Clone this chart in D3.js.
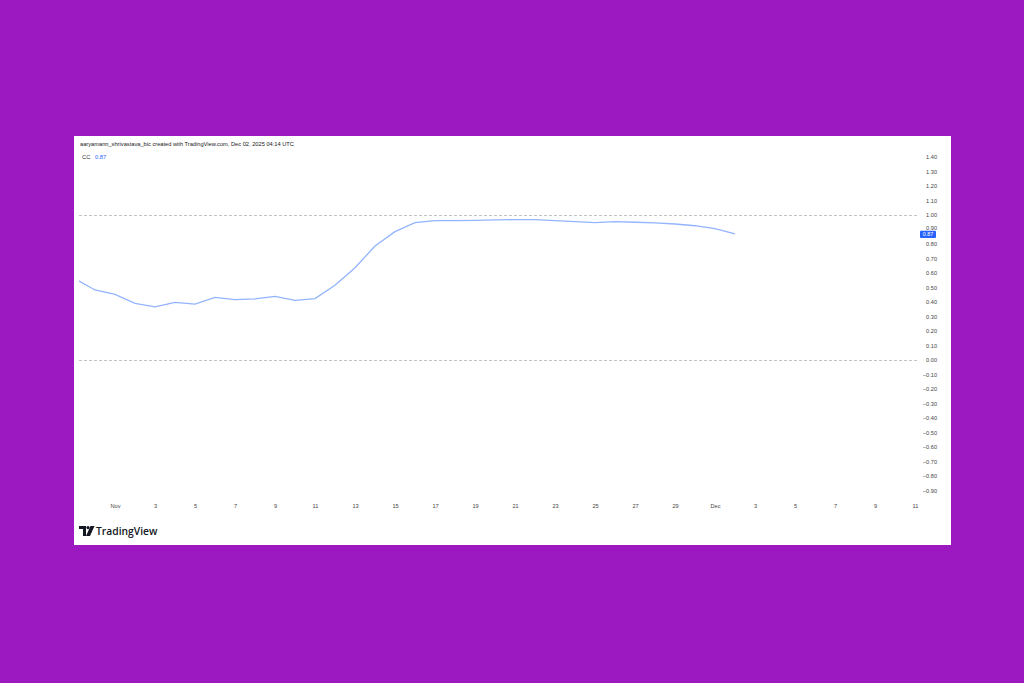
<!DOCTYPE html>
<html><head><meta charset="utf-8">
<script src="https://cdn.jsdelivr.net/npm/d3@7"></script>
<style>html,body{margin:0;padding:0;background:#9c18c0;}svg{display:block;}</style>
</head><body>
<svg id="c" width="1024" height="683"></svg>
<script>
const dates = ["2025-10-30","2025-10-31","2025-11-01","2025-11-02","2025-11-03","2025-11-04","2025-11-05","2025-11-06","2025-11-07","2025-11-08","2025-11-09","2025-11-10","2025-11-11","2025-11-12","2025-11-13","2025-11-14","2025-11-15","2025-11-16","2025-11-17","2025-11-18","2025-11-19","2025-11-20","2025-11-21","2025-11-22","2025-11-23","2025-11-24","2025-11-25","2025-11-26","2025-11-27","2025-11-28","2025-11-29","2025-11-30","2025-12-01","2025-12-02"];
const ccValues = [0.56,0.483,0.452,0.391,0.366,0.398,0.386,0.432,0.416,0.421,0.439,0.411,0.423,0.515,0.636,0.786,0.885,0.947,0.961,0.961,0.963,0.966,0.968,0.968,0.961,0.954,0.947,0.954,0.95,0.945,0.938,0.926,0.906,0.869];
const xTickDates = ["2025-11-01","2025-11-03","2025-11-05","2025-11-07","2025-11-09","2025-11-11","2025-11-13","2025-11-15","2025-11-17","2025-11-19","2025-11-21","2025-11-23","2025-11-25","2025-11-27","2025-11-29","2025-12-01","2025-12-03","2025-12-05","2025-12-07","2025-12-09","2025-12-11"];
const xTickLabels = ["Nov","3","5","7","9","11","13","15","17","19","21","23","25","27","29","Dec","3","5","7","9","11"];
const yTicks = [1.4,1.3,1.2,1.1,1.0,0.9,0.8,0.7,0.6,0.5,0.4,0.3,0.2,0.1,0.0,-0.1,-0.2,-0.3,-0.4,-0.5,-0.6,-0.7,-0.8,-0.9];
const refLines = [1.0, 0.0];
const lastValue = 0.87;
const headerText = "aaryamann_shrivastava_bic created with TradingView.com, Dec 02, 2025 04:14 UTC";

const parse = d3.utcParse("%Y-%m-%d");
const svg = d3.select("#c");
const font = "'Liberation Sans', Arial, sans-serif";

// panel
svg.append("rect").attr("x",74).attr("y",136).attr("width",877).attr("height",409).attr("fill","#ffffff");

const x = d3.scaleUtc().domain([parse("2025-11-01"), parse("2025-12-11")]).range([115, 915]);
const y = d3.scaleLinear().domain([0, 1]).range([360, 215]);

const plotL = 79, plotR = 918;
svg.append("clipPath").attr("id","clip").append("rect").attr("x",plotL).attr("y",140).attr("width",plotR-plotL).attr("height",360);

// reference dashed lines
svg.append("g").selectAll("line").data(refLines).join("line")
  .attr("x1",plotL).attr("x2",plotR)
  .attr("y1",d=>Math.round(y(d))+0.5).attr("y2",d=>Math.round(y(d))+0.5)
  .attr("stroke","#c4c4c4").attr("stroke-width",1).attr("stroke-dasharray","3,2");

// line
const pts = dates.map((d,i)=>({d:parse(d), v:ccValues[i]}));
svg.append("path").datum(pts).attr("clip-path","url(#clip)")
  .attr("fill","none").attr("stroke","#93b4ff").attr("stroke-width",1.3)
  .attr("d", d3.line().x(p=>x(p.d)).y(p=>y(p.v)));

// y axis
const yAxis = d3.axisRight(y).tickValues(yTicks).tickFormat(d3.format(".2f")).tickSize(0).tickPadding(0);
const yg = svg.append("g").attr("transform","translate(937,0)").call(yAxis);
yg.select(".domain").remove();
yg.selectAll("text").attr("text-anchor","end").attr("fill","#444").style("font-family",font).style("font-size","5.6px").attr("dy","0.35em");
yg.selectAll(".tick").filter(d=>d===0.9).select("text").attr("dy","0.05em");

// x axis
const xAxis = d3.axisBottom(x).tickValues(xTickDates.map(parse)).tickFormat((d,i)=>xTickLabels[i]).tickSize(0).tickPadding(0);
const xg = svg.append("g").attr("transform","translate(0,506)").call(xAxis);
xg.select(".domain").remove();
xg.selectAll("text").attr("fill","#444").style("font-family",font).style("font-size","5.6px").attr("dy","0.35em");

// last value label
const ly = y(lastValue);
svg.append("rect").attr("x",920).attr("y",ly-3.2).attr("width",16).attr("height",7.4).attr("rx",1).attr("fill","#2962ff");
svg.append("text").attr("x",928).attr("y",ly+0.5).attr("dy","0.35em").attr("text-anchor","middle")
  .attr("fill","#fff").style("font-family",font).style("font-size","5.4px").text(lastValue.toFixed(2));

// header
svg.append("text").attr("x",80).attr("y",144).attr("dy","0.35em").attr("fill","#222")
  .style("font-family",font).style("font-size","5.7px").text(headerText);
const leg = svg.append("text").attr("x",82).attr("y",157).attr("dy","0.35em").style("font-family",font).style("font-size","5.8px");
leg.append("tspan").attr("fill","#333").text("CC ");
leg.append("tspan").attr("dx",3).attr("fill","#2962ff").text(lastValue.toFixed(2));

// TradingView logo
const logo = svg.append("g").attr("transform","translate(79,526)");
logo.append("path").attr("d","M0 0 H7 V10 H4 V3 H0 Z").attr("fill","#131722");
logo.append("circle").attr("cx",9).attr("cy",1.6).attr("r",1.6).attr("fill","#131722");
logo.append("path").attr("d","M11.5 0 H15.5 L11 10 H7 Z").attr("fill","#131722");
svg.append("text").attr("x",96).attr("y",531).attr("dy","0.35em").attr("fill","#131722")
  .style("font-family","'Open Sans', sans-serif").style("font-weight","600").style("font-size","10.3px").text("TradingView");
</script>
</body></html>
